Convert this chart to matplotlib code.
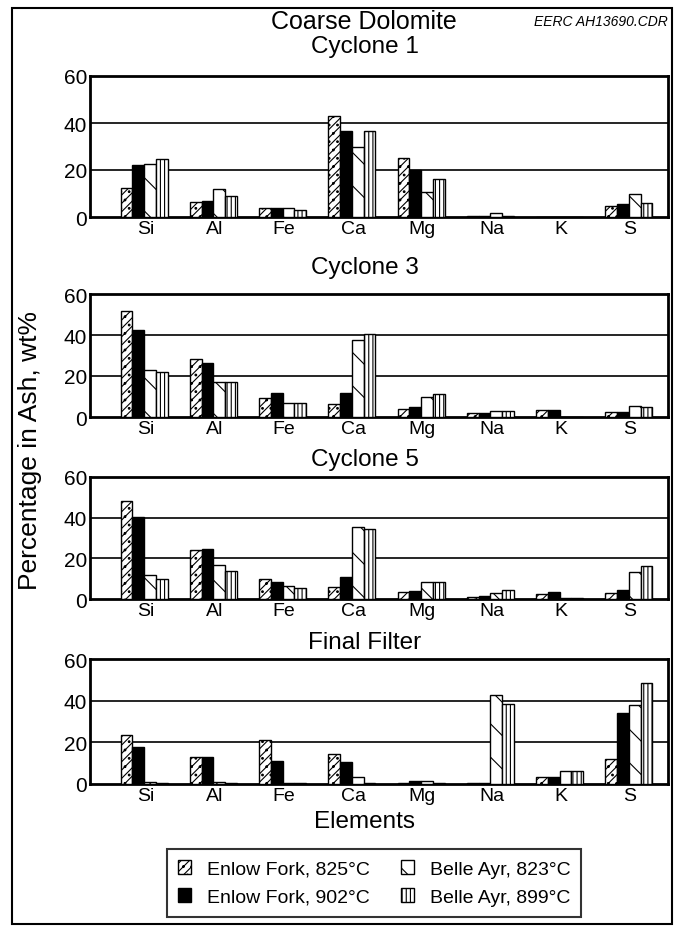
import numpy as np
import matplotlib
matplotlib.use("Agg")
import matplotlib.pyplot as plt
from matplotlib.patches import Rectangle

plt.rcParams['font.family'] = ['Liberation Sans', 'DejaVu Sans']
plt.rcParams['hatch.linewidth'] = 0.8

elements = ["Si", "Al", "Fe", "Ca", "Mg", "Na", "K", "S"]
series = ["Enlow Fork, 825°C", "Enlow Fork, 902°C", "Belle Ayr, 823°C", "Belle Ayr, 899°C"]
panel_titles = ["Cyclone 1", "Cyclone 3", "Cyclone 5", "Final Filter"]

# wt%, order: EF825, EF902, BA823, BA899
cyclone1 = [
    [12.5, 6.2, 4.0, 43.0, 25.0, 0.3, 0.2, 4.5],
    [22.0, 7.0, 4.0, 36.7, 20.0, 0.3, 0.2, 5.5],
    [22.7, 12.0, 4.0, 29.6, 10.5, 1.5, 0.2, 10.0],
    [24.7, 8.8, 2.8, 36.7, 16.3, 0.3, 0.2, 6.0],
]
cyclone3 = [
    [51.5, 28.5, 9.4, 6.5, 4.0, 2.0, 3.5, 2.5],
    [42.5, 26.5, 11.8, 11.8, 5.0, 1.8, 3.3, 2.5],
    [23.0, 17.3, 6.8, 37.6, 10.0, 3.0, 0.0, 5.5],
    [21.8, 17.3, 6.8, 40.5, 11.0, 3.0, 0.0, 5.0],
]
cyclone5 = [
    [48.0, 24.3, 10.0, 5.8, 3.5, 1.2, 2.5, 3.0],
    [40.5, 24.8, 8.6, 10.7, 3.8, 1.5, 3.5, 4.5],
    [11.6, 16.5, 6.6, 35.5, 8.3, 3.0, 0.3, 13.5],
    [10.0, 14.0, 5.5, 34.2, 8.3, 4.5, 0.3, 16.0],
]
final_filter = [
    [23.4, 13.2, 21.2, 14.2, 0.3, 0.3, 3.2, 12.0],
    [18.0, 13.2, 11.0, 10.5, 1.5, 0.3, 3.2, 34.0],
    [0.8, 1.0, 0.5, 3.2, 1.5, 42.5, 6.2, 38.0],
    [0.5, 0.5, 0.3, 0.5, 0.3, 38.5, 6.2, 48.5],
]
panels = [cyclone1, cyclone3, cyclone5, final_filter]

styles = [
    dict(facecolor="white", hatch="////.."),
    dict(facecolor="black", hatch=None),
    dict(facecolor="white", hatch="\\"),
    dict(facecolor="white", hatch="||||"),
]

W, H = 676, 928
fig = plt.figure(figsize=(W / 100, H / 100), dpi=100)

# axes boxes in pixels: (top, bottom)
boxes = [(77, 218), (295, 418), (478, 600), (660, 785)]
title_y = [47, 268, 460, 643]
left, right = 90, 668

x = np.arange(len(elements))
bw = 0.17
handles = None
for k, (data, (top, bot)) in enumerate(zip(panels, boxes)):
    ax = fig.add_axes([left / W, 1 - bot / H, (right - left) / W, (bot - top) / H])
    hs = []
    for i, vals in enumerate(data):
        b = ax.bar(x + (i - 1.6) * bw, vals, bw, edgecolor="black", linewidth=1.0,
                   label=series[i], zorder=3, **styles[i])
        hs.append(b)
    if handles is None:
        handles = hs
    ax.set_xlim(-0.8, 7.55)
    ax.set_ylim(0, 60)
    ax.set_yticks([0, 20, 40, 60])
    ax.set_xticks(x)
    ax.set_xticklabels(elements, fontsize=14)
    ax.tick_params(axis="x", length=0, pad=2)
    ax.tick_params(axis="y", length=0, labelsize=15, pad=2)
    for yv in (20, 40):
        ax.axhline(yv, color="black", lw=1.2, zorder=1)
    for s in ax.spines.values():
        s.set_linewidth(2.0)
    fig.text(365 / W, 1 - title_y[k] / H, panel_titles[k], ha="center", va="center", fontsize=17.5)

fig.text(364 / W, 1 - 22 / H, "Coarse Dolomite", ha="center", va="center", fontsize=18)
fig.text(668 / W, 1 - 22 / H, "EERC AH13690.CDR", ha="right", va="center", fontsize=10,
         style="italic")
fig.text(30 / W, 1 - 450 / H, "Percentage in Ash, wt%", rotation=90, ha="center",
         va="center", fontsize=19)
fig.text(365 / W, 1 - 822 / H, "Elements", ha="center", va="center", fontsize=17.5)

leg = fig.legend(handles=handles, labels=series, ncol=2, loc="center",
                 bbox_to_anchor=(374 / W, 1 - 884 / H), fontsize=14, frameon=True,
                 fancybox=False, edgecolor="black", handlelength=0.7, handleheight=0.7,
                 columnspacing=1.6, borderpad=0.55, labelspacing=0.55)
leg.get_frame().set_linewidth(1.5)

fig.patches.append(Rectangle((12 / W, 1 - 925 / H), 660 / W, 916 / H, transform=fig.transFigure,
                             fill=False, edgecolor="black", lw=1.5))

fig.savefig("out.png", dpi=100)
